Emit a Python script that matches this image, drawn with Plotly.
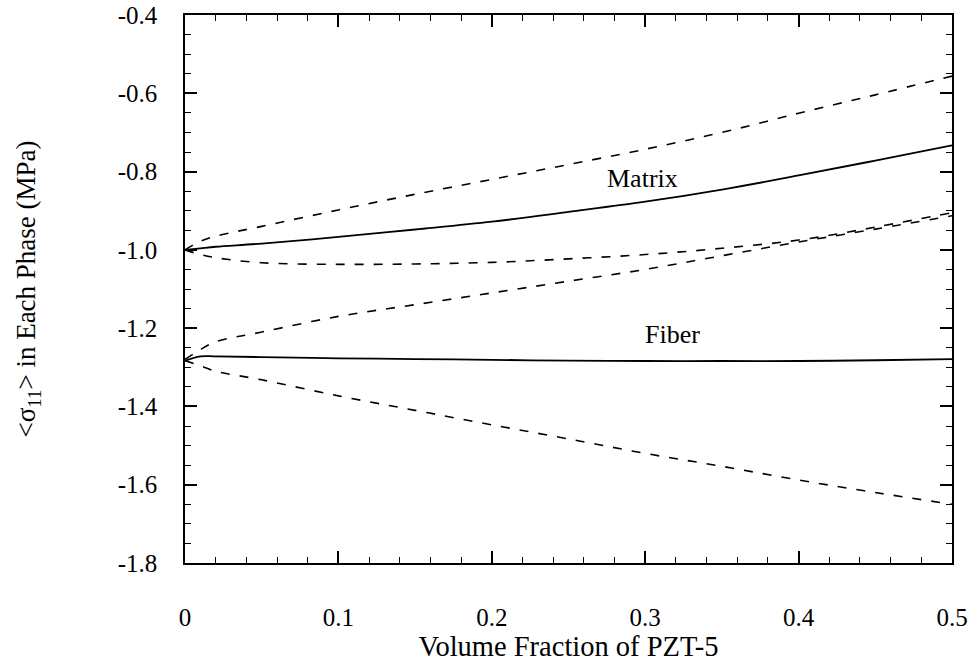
import plotly.graph_objects as go

x_vals = [0.0, 0.01, 0.02, 0.05, 0.1, 0.15, 0.2, 0.25, 0.3, 0.35, 0.4, 0.45, 0.5]

matrix_solid = [-1.0, -0.996, -0.992, -0.984, -0.967, -0.948, -0.928, -0.903, -0.877, -0.846, -0.810, -0.772, -0.733]
matrix_upper = [-1.0, -0.978, -0.965, -0.940, -0.898, -0.858, -0.820, -0.782, -0.743, -0.700, -0.651, -0.604, -0.556]
matrix_lower = [-1.0, -1.012, -1.020, -1.033, -1.037, -1.036, -1.032, -1.023, -1.012, -0.996, -0.975, -0.942, -0.905]

fiber_solid = [-1.283, -1.272, -1.272, -1.274, -1.277, -1.279, -1.281, -1.283, -1.284, -1.284, -1.284, -1.282, -1.279]
fiber_upper = [-1.28, -1.255, -1.235, -1.210, -1.170, -1.140, -1.110, -1.080, -1.050, -1.015, -0.980, -0.947, -0.913]
fiber_lower = [-1.283, -1.296, -1.310, -1.332, -1.373, -1.410, -1.447, -1.483, -1.520, -1.553, -1.588, -1.620, -1.650]

y_tickvals = [-1.8, -1.6, -1.4, -1.2, -1.0, -0.8, -0.6, -0.4]
y_ticktext = ["-1.8", "-1.6", "-1.4", "-1.2", "-1.0", "-0.8", "-0.6", "-0.4"]
x_tickvals = [0, 0.1, 0.2, 0.3, 0.4, 0.5]
x_ticktext = ["0", "0.1", "0.2", "0.3", "0.4", "0.5"]

labels = ["Matrix", "Fiber"]
label_x = [0.298, 0.318]
label_y = [-0.817, -1.217]

FONT = "Liberation Serif, Times New Roman, serif"

fig = go.Figure()
solid = dict(color="black", width=1.8)
dashed = dict(color="black", width=1.6, dash="9px,10px")
for ys, ln in [(matrix_upper, dashed), (matrix_lower, dashed), (matrix_solid, solid),
               (fiber_upper, dashed), (fiber_lower, dashed), (fiber_solid, solid)]:
    fig.add_trace(go.Scatter(x=x_vals, y=ys, mode="lines", line=ln, showlegend=False,
                             line_shape="spline"))

for t, xx, yy in zip(labels, label_x, label_y):
    fig.add_annotation(x=xx, y=yy, text=t, showarrow=False,
                       font=dict(family=FONT, size=26, color="black"))

axis_common = dict(
    showgrid=False, zeroline=False, showline=True, linecolor="black", linewidth=1.5,
    mirror="allticks", ticks="inside", ticklen=12, tickwidth=1.5, tickcolor="black",
    tickfont=dict(family=FONT, size=25, color="black"), automargin=False,
)

fig.update_xaxes(
    range=[0, 0.5], tickmode="array", tickvals=x_tickvals, ticktext=x_ticktext,
    minor=dict(tickmode="linear", tick0=0, dtick=0.02, ticks="inside", ticklen=6,
               tickwidth=1.3, tickcolor="black", showgrid=False),
    title=dict(text="Volume Fraction of PZT-5", font=dict(family=FONT, size=28.5, color="black"),
               standoff=6),
    ticklabelstandoff=31,
    **axis_common,
)
fig.update_yaxes(
    range=[-1.8, -0.4], tickmode="array", tickvals=y_tickvals, ticktext=y_ticktext,
    minor=dict(tickmode="linear", tick0=-1.8, dtick=0.05, ticks="inside", ticklen=6,
               tickwidth=1.3, tickcolor="black", showgrid=False),
    title=dict(text="&lt;σ<sub>11</sub>&gt; in Each Phase (MPa)",
               font=dict(family=FONT, size=27, color="black"), standoff=74),
    ticklabelstandoff=21,
    **axis_common,
)

fig.update_layout(
    width=972, height=667,
    margin=dict(l=185, r=20, t=15, b=104),
    plot_bgcolor="white", paper_bgcolor="white",
)

fig.write_html("out.html")
